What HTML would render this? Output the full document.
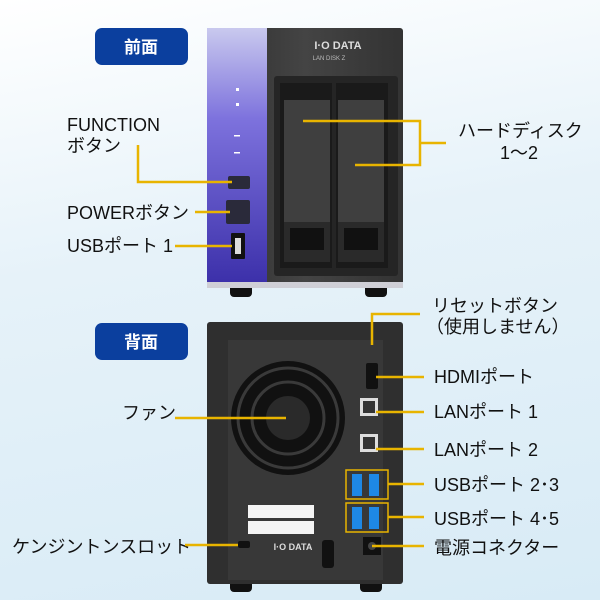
<!DOCTYPE html><html><head><meta charset="utf-8"><style>
body{margin:0;width:600px;height:600px;overflow:hidden;background:linear-gradient(170deg,#ffffff 0%,#e6f2f9 40%,#d8ebf6 100%);}
svg{display:block}
text{font-family:"Liberation Sans","Noto Sans CJK JP",sans-serif;fill:#111;font-size:18px}
</style></head><body>
<svg width="600" height="600" viewBox="0 0 600 600">
<defs>
<linearGradient id="pur" x1="0" y1="0" x2="0" y2="1"><stop offset="0" stop-color="#c9c9ee"/><stop offset="0.35" stop-color="#7d72dd"/><stop offset="1" stop-color="#3a2ea8"/></linearGradient>
<linearGradient id="dk" x1="0" y1="0" x2="1" y2="0"><stop offset="0" stop-color="#2e2e2e"/><stop offset="0.5" stop-color="#444"/><stop offset="1" stop-color="#333"/></linearGradient>
</defs>
<!-- badges -->
<rect x="95" y="28" width="93" height="37" rx="7" fill="#0b3f9e"/>
<text x="141" y="53" text-anchor="middle" fill="#fff" style="fill:#fff;font-weight:bold;font-size:17px">前面</text>
<rect x="95" y="323" width="93" height="37" rx="7" fill="#0b3f9e"/>
<text x="141" y="348" text-anchor="middle" style="fill:#fff;font-weight:bold;font-size:17px">背面</text>

<!-- front device -->
<rect x="230" y="282" width="22" height="15" rx="4" fill="#111"/>
<rect x="365" y="282" width="22" height="15" rx="4" fill="#111"/>
<rect x="207" y="28" width="196" height="260" rx="3" fill="url(#dk)"/>
<rect x="207" y="28" width="60" height="260" fill="url(#pur)"/>
<rect x="207" y="282" width="196" height="6" fill="#cfcfd6"/>
<text x="338" y="49" text-anchor="middle" style="fill:#ddd;font-size:11px;font-weight:bold">I·O DATA</text>
<text x="329" y="60" text-anchor="middle" style="fill:#bbb;font-size:6px">LAN DISK Z</text>
<rect x="274" y="76" width="124" height="200" rx="3" fill="#252525"/>
<rect x="280" y="83" width="52" height="185" fill="#1a1a1a"/>
<rect x="336" y="83" width="52" height="185" fill="#1a1a1a"/>
<rect x="284" y="100" width="46" height="125" fill="#3f3f3f"/>
<rect x="338" y="100" width="46" height="125" fill="#3f3f3f"/>
<rect x="284" y="222" width="46" height="40" fill="#2a2a2a"/>
<rect x="338" y="222" width="46" height="40" fill="#2a2a2a"/>
<rect x="290" y="228" width="34" height="22" fill="#111"/>
<rect x="344" y="228" width="34" height="22" fill="#111"/>
<rect x="228" y="176" width="22" height="13" rx="2" fill="#2a2a3a"/>
<rect x="226" y="200" width="24" height="24" rx="2" fill="#2a2a3a"/>
<rect x="231" y="233" width="14" height="26" rx="1" fill="#111"/>
<rect x="235" y="238" width="6" height="16" fill="#ddd"/>
<rect x="236" y="88" width="3" height="3" fill="#fff"/><rect x="236" y="103" width="3" height="3" fill="#fff"/>
<rect x="234" y="135" width="6" height="1.5" fill="#fff"/><rect x="234" y="152" width="6" height="1.5" fill="#fff"/>

<!-- front labels -->
<text x="67" y="131">FUNCTION</text>
<text x="67" y="152">ボタン</text>
<text x="67" y="219">POWERボタン</text>
<text x="67" y="252">USBポート 1</text>
<text x="458" y="137">ハードディスク</text>
<text x="500" y="159">1～2</text>
<g stroke="#e8b400" stroke-width="2.5" fill="none">
<polyline points="138,145 138,182 232,182"/>
<line x1="195" y1="212" x2="230" y2="212"/>
<line x1="175" y1="246" x2="232" y2="246"/>
<polyline points="303,121 420,121 420,165 355,165"/>
<line x1="420" y1="143" x2="446" y2="143"/>
</g>

<!-- back device -->
<rect x="230" y="578" width="22" height="14" rx="4" fill="#111"/>
<rect x="360" y="578" width="22" height="14" rx="4" fill="#111"/>
<rect x="207" y="322" width="196" height="262" rx="3" fill="#2f2f2f"/>
<rect x="228" y="340" width="155" height="240" fill="#383838"/>
<circle cx="288" cy="418" r="57" fill="#111"/>
<circle cx="288" cy="418" r="50" fill="none" stroke="#3a3a3a" stroke-width="3"/>
<circle cx="288" cy="418" r="36" fill="none" stroke="#3a3a3a" stroke-width="3"/>
<circle cx="288" cy="418" r="22" fill="#2a2a2a"/>
<rect x="248" y="505" width="66" height="13" fill="#f4f4f4"/>
<rect x="248" y="521" width="66" height="13" fill="#f4f4f4"/>
<text x="293" y="550" text-anchor="middle" style="fill:#ddd;font-size:9px;font-weight:bold">I·O DATA</text>
<rect x="238" y="541" width="12" height="7" rx="2" fill="#111"/>
<rect x="322" y="540" width="12" height="28" rx="3" fill="#111"/>
<rect x="366" y="363" width="12" height="26" rx="2" fill="#111"/>
<rect x="360" y="398" width="18" height="18" fill="#ddd"/><rect x="363" y="401" width="12" height="12" fill="#333"/>
<rect x="360" y="434" width="18" height="18" fill="#ddd"/><rect x="363" y="437" width="12" height="12" fill="#333"/>
<rect x="346" y="470" width="42" height="29" fill="none" stroke="#e8b400" stroke-width="1.5"/>
<rect x="346" y="503" width="42" height="29" fill="none" stroke="#e8b400" stroke-width="1.5"/>
<rect x="352" y="474" width="10" height="22" fill="#1e88e5"/><rect x="369" y="474" width="10" height="22" fill="#1e88e5"/>
<rect x="352" y="507" width="10" height="22" fill="#1e88e5"/><rect x="369" y="507" width="10" height="22" fill="#1e88e5"/>
<rect x="363" y="537" width="18" height="18" fill="#111"/><circle cx="372" cy="546" r="4" fill="#444"/>

<!-- back labels -->
<text x="432" y="312">リセットボタン</text>
<text x="426" y="333">（使用しません）</text>
<text x="434" y="383">HDMIポート</text>
<text x="434" y="418">LANポート 1</text>
<text x="434" y="456">LANポート 2</text>
<text x="434" y="491">USBポート 2･3</text>
<text x="434" y="525">USBポート 4･5</text>
<text x="434" y="554">電源コネクター</text>
<text x="122" y="419">ファン</text>
<text x="12" y="553">ケンジントンスロット</text>
<g stroke="#e8b400" stroke-width="2.5" fill="none">
<polyline points="372,345 372,314 420,314"/>
<line x1="376" y1="377" x2="424" y2="377"/>
<line x1="376" y1="412" x2="424" y2="412"/>
<line x1="376" y1="449" x2="424" y2="449"/>
<line x1="388" y1="484" x2="424" y2="484"/>
<line x1="388" y1="517" x2="424" y2="517"/>
<line x1="372" y1="546" x2="424" y2="546"/>
<line x1="175" y1="418" x2="286" y2="418"/>
<line x1="185" y1="545" x2="238" y2="545"/>
</g>
</svg>
</body></html>
